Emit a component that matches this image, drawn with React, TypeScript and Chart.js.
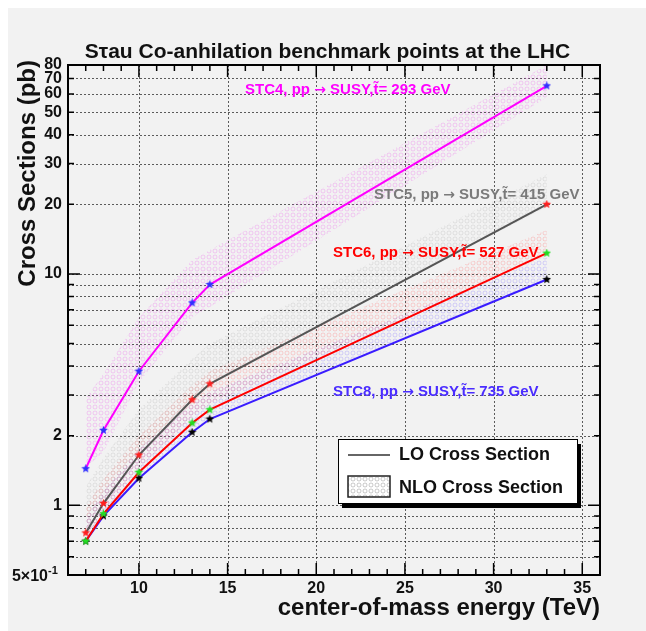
import { useEffect, useRef } from 'react';
import { Chart, registerables } from 'chart.js';

Chart.register(...registerables);

// ---- data ----
const energies = [7, 8, 10, 13, 14, 33];

const stc4LO = [1.44, 2.11, 3.8, 7.5, 9.0, 65];
const stc5LO = [0.76, 1.02, 1.65, 2.86, 3.35, 20];
const stc6LO = [0.7, 0.92, 1.39, 2.27, 2.59, 12.3];
const stc8LO = [0.7, 0.9, 1.31, 2.07, 2.36, 9.46];

const stc4NLOLow = [1.45, 1.7, 3.4, 6.5, 7.2, 58];
const stc4NLOHigh = [2.9, 3.7, 6.5, 11.5, 12.7, 80];
const stc5NLOLow = [0.8, 1.05, 1.7, 2.9, 3.4, 19.5];
const stc5NLOHigh = [1.2, 1.6, 2.6, 4.3, 5.0, 27];
const stc6NLOLow = [0.72, 0.95, 1.45, 2.4, 2.75, 12];
const stc6NLOHigh = [0.98, 1.3, 2.0, 3.3, 3.8, 15.5];
const stc8NLOLow = [0.7, 0.91, 1.33, 2.1, 2.4, 9.5];
const stc8NLOHigh = [0.88, 1.15, 1.75, 2.75, 3.1, 11.8];

const xMajorTicks = [10, 15, 20, 25, 30, 35];
const xTickLabels = ['10', '15', '20', '25', '30', '35'];
const yGridValues = [0.6, 0.7, 0.8, 0.9, 1, 2, 3, 4, 5, 6, 7, 8, 9, 10, 20, 30, 40, 50, 60, 70];
const yMajorValues = [1, 10];
const yTickValues = [80, 70, 60, 50, 40, 30, 20, 10, 2, 1];
const yTickLabels = ['80', '70', '60', '50', '40', '30', '20', '10', '2', '1'];

const titleText = 'S\u03c4au Co-anhilation benchmark points at the LHC';
const xTitle = 'center-of-mass energy (TeV)';
const yTitle = 'Cross Sections (pb)';
const annotations = [
  { parts: ['STC4, pp ', '\u2192', ' SUSY,t\u0303= 293 GeV'], color: '#ff00ff', x: 237, y: 82 },
  { parts: ['STC5, pp ', '\u2192', ' SUSY,t\u0303= 415 GeV'], color: '#7a7a7a', x: 366, y: 187 },
  { parts: ['STC6, pp ', '\u2192', ' SUSY,t\u0303= 527 GeV'], color: '#ff0000', x: 325, y: 245 },
  { parts: ['STC8, pp ', '\u2192', ' SUSY,t\u0303= 735 GeV'], color: '#4a2cff', x: 325, y: 384 },
];
const legendLabels = ['LO Cross Section', 'NLO Cross Section'];

const FONT = '"Liberation Sans", Arial, Helvetica, sans-serif';

function makePattern(color: string) {
  const c = document.createElement('canvas');
  c.width = 6;
  c.height = 6;
  const g = c.getContext('2d')!;
  g.strokeStyle = color;
  g.lineWidth = 1;
  g.beginPath();
  g.arc(3, 3, 2, 0, Math.PI * 2);
  g.stroke();
  return g.createPattern(c, 'repeat')!;
}

function makeStar(color: string, size = 9) {
  const c = document.createElement('canvas');
  c.width = size;
  c.height = size;
  const g = c.getContext('2d')!;
  const cx = size / 2, cy = size / 2, R = size / 2, r = R * 0.45;
  g.beginPath();
  for (let i = 0; i < 10; i++) {
    const a = -Math.PI / 2 + (i * Math.PI) / 5;
    const rad = i % 2 ? r : R;
    g.lineTo(cx + rad * Math.cos(a), cy + rad * Math.sin(a));
  }
  g.closePath();
  g.fillStyle = color;
  g.fill();
  return c;
}

const pts = (ys: number[]) => energies.map((x, i) => ({ x, y: ys[i] }));

const rootPlugin = {
  id: 'rootStyle',
  beforeDraw(chart: any) {
    const { ctx, width, height } = chart;
    ctx.save();
    ctx.fillStyle = '#f2f2f2';
    ctx.fillRect(0, 0, width, height);
    ctx.restore();
  },
  beforeDatasetsDraw(chart: any) {
    const { ctx, chartArea: a, scales } = chart;
    const sx = scales.x, sy = scales.y;
    ctx.save();
    ctx.strokeStyle = 'rgba(40,40,40,0.75)';
    ctx.lineWidth = 1;
    ctx.setLineDash([2, 2]);
    yGridValues.forEach((v) => {
      const y = Math.round(sy.getPixelForValue(v)) + 0.5;
      ctx.beginPath();
      ctx.moveTo(a.left, y);
      ctx.lineTo(a.right, y);
      ctx.stroke();
    });
    xMajorTicks.forEach((v) => {
      const x = Math.round(sx.getPixelForValue(v)) + 0.5;
      ctx.beginPath();
      ctx.moveTo(x, a.top);
      ctx.lineTo(x, a.bottom);
      ctx.stroke();
    });
    ctx.restore();
  },
  afterDatasetsDraw(chart: any) {
    const { ctx, chartArea: a, scales } = chart;
    const sx = scales.x, sy = scales.y;
    ctx.save();
    // frame
    ctx.strokeStyle = '#000';
    ctx.lineWidth = 2;
    ctx.strokeRect(a.left, a.top, a.right - a.left, a.bottom - a.top);
    // x ticks
    ctx.lineWidth = 1.5;
    for (let v = 7; v <= 35; v++) {
      const x = sx.getPixelForValue(v);
      const len = xMajorTicks.includes(v) ? 12 : 6;
      ctx.beginPath();
      ctx.moveTo(x, a.bottom);
      ctx.lineTo(x, a.bottom - len);
      ctx.moveTo(x, a.top);
      ctx.lineTo(x, a.top + len);
      ctx.stroke();
    }
    // y ticks
    yGridValues.forEach((v) => {
      const y = sy.getPixelForValue(v);
      const len = yMajorValues.includes(v) ? 12 : 6;
      ctx.beginPath();
      ctx.moveTo(a.left, y);
      ctx.lineTo(a.left + len, y);
      ctx.moveTo(a.right, y);
      ctx.lineTo(a.right - len, y);
      ctx.stroke();
    });
    // tick labels
    ctx.fillStyle = '#111';
    ctx.font = `bold 16px ${FONT}`;
    ctx.textAlign = 'center';
    ctx.textBaseline = 'middle';
    xMajorTicks.forEach((v, i) => {
      ctx.fillText(xTickLabels[i], sx.getPixelForValue(v), a.bottom + 14);
    });
    ctx.textAlign = 'right';
    yTickValues.forEach((v, i) => {
      ctx.fillText(yTickLabels[i], a.left - 6, sy.getPixelForValue(v));
    });
    const y05 = sy.getPixelForValue(0.5);
    ctx.fillText('5\u00d710', a.left - 20, y05 + 2);
    ctx.font = `bold 11px ${FONT}`;
    ctx.textAlign = 'left';
    ctx.fillText('-1', a.left - 20, y05 - 4);
    // titles
    ctx.font = `bold 21px ${FONT}`;
    ctx.textAlign = 'center';
    ctx.textBaseline = 'alphabetic';
    ctx.fillText(titleText, 319.5, 50);
    ctx.font = `bold 24px ${FONT}`;
    ctx.textAlign = 'right';
    ctx.fillText(xTitle, a.right, 607);
    ctx.save();
    ctx.translate(20, 52);
    ctx.rotate(-Math.PI / 2);
    ctx.textBaseline = 'middle';
    ctx.textAlign = 'right';
    ctx.fillText(yTitle, 0, 0);
    ctx.restore();
    // annotations
    ctx.textAlign = 'left';
    ctx.textBaseline = 'middle';
    annotations.forEach((t) => {
      ctx.fillStyle = t.color;
      let x = t.x;
      t.parts.forEach((p, i) => {
        ctx.font = i === 1 ? `bold 14px "DejaVu Sans", sans-serif` : `bold 15px ${FONT}`;
        ctx.fillText(p, x, t.y);
        x += ctx.measureText(p).width;
      });
    });
    // legend
    const lx = 330, ly = 431, lw = 239, lh = 64;
    ctx.fillStyle = '#000';
    ctx.fillRect(lx + 4, ly + 5, lw, lh);
    ctx.fillStyle = '#fff';
    ctx.fillRect(lx, ly, lw, lh);
    ctx.strokeStyle = '#000';
    ctx.lineWidth = 1;
    ctx.strokeRect(lx + 0.5, ly + 0.5, lw, lh);
    ctx.strokeStyle = '#333';
    ctx.lineWidth = 1.5;
    ctx.beginPath();
    ctx.moveTo(lx + 10, ly + 16);
    ctx.lineTo(lx + 52, ly + 16);
    ctx.stroke();
    ctx.fillStyle = makePattern('rgba(150,150,150,0.5)');
    ctx.fillRect(lx + 10, ly + 37, 42, 21);
    ctx.strokeStyle = '#222';
    ctx.lineWidth = 1.5;
    ctx.strokeRect(lx + 10, ly + 37, 42, 21);
    ctx.fillStyle = '#111';
    ctx.font = `bold 18px ${FONT}`;
    ctx.textBaseline = 'middle';
    ctx.fillText(legendLabels[0], lx + 61, ly + 16);
    ctx.fillText(legendLabels[1], lx + 61, ly + 49);
    ctx.restore();
  },
};

export default function App() {
  const ref = useRef<HTMLCanvasElement>(null);
  useEffect(() => {
    if (!ref.current) return;
    const band = (hi: number[], lo: number[], color: string) => [
      {
        data: pts(hi),
        borderWidth: 0,
        pointRadius: 0,
        backgroundColor: makePattern(color),
        borderColor: 'rgba(0,0,0,0)',
        fill: '+1',
        order: 2,
      },
      {
        data: pts(lo),
        borderWidth: 0,
        pointRadius: 0,
        borderColor: 'rgba(0,0,0,0)',
        fill: false,
        order: 2,
      },
    ];
    const lo = (ys: number[], color: string, marker: string) => ({
      data: pts(ys),
      borderColor: color,
      borderWidth: 2,
      pointStyle: makeStar(marker),
      pointRadius: 4,
      fill: false,
      order: 1,
    });
    const chart = new Chart(ref.current, {
      type: 'line',
      data: {
        datasets: [
          ...band(stc4NLOHigh, stc4NLOLow, 'rgba(235,90,235,0.28)'),
          ...band(stc5NLOHigh, stc5NLOLow, 'rgba(160,160,160,0.22)'),
          ...band(stc6NLOHigh, stc6NLOLow, 'rgba(255,90,90,0.25)'),
          ...band(stc8NLOHigh, stc8NLOLow, 'rgba(110,90,255,0.25)'),
          lo(stc4LO, '#ff00ff', '#3030ff'),
          lo(stc5LO, '#555555', '#ff2020'),
          lo(stc6LO, '#ff0000', '#22dd22'),
          lo(stc8LO, '#3a1cff', '#000000'),
        ] as any,
      },
      options: {
        animation: false,
        responsive: false,
        maintainAspectRatio: false,
        layout: { padding: { left: 60, top: 57, right: 46, bottom: 56 } },
        elements: { line: { tension: 0 } },
        scales: {
          x: { type: 'linear', min: 6, max: 36, display: false },
          y: { type: 'logarithmic', min: 0.5, max: 80, display: false },
        },
        plugins: {
          legend: { display: false },
          tooltip: { enabled: false },
        },
      } as any,
      plugins: [rootPlugin],
    });
    return () => chart.destroy();
  }, []);
  return (
    <div style={{ position: 'absolute', left: 8, top: 8, width: 638, height: 623 }}>
      <canvas ref={ref} width={638} height={623} style={{ display: 'block' }} />
    </div>
  );
}
